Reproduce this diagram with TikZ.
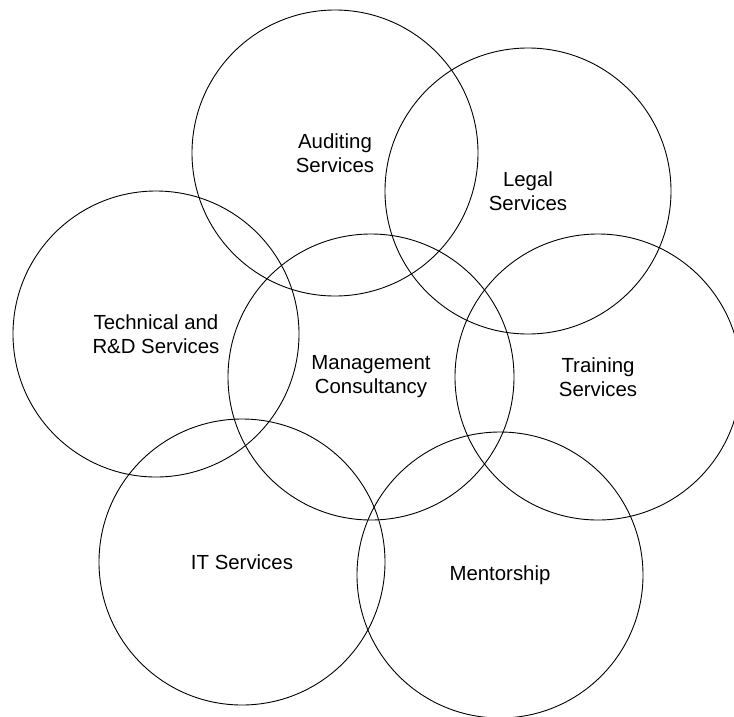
\documentclass[tikz,border=0pt]{standalone}
\usepackage{fontspec}
\setmainfont{Liberation Sans}

\begin{document}
\begin{tikzpicture}[
    x=1pt, y=-1pt, % pixel-like units, y going down
    service/.style={
        circle,
        draw,
        minimum size=286pt,
        inner sep=0pt,
        align=center,
        line width=0.9pt,
        font=\fontsize{20.4}{24}\selectfont
    }
]
    % --- Frame ---
    \clip (0,0) rectangle (734,716);

    % --- Nodes ---

    % Top Row
    \node [service] (audit) at (335,153) {Auditing\\Services};
    \node [service] (legal) at (528,191) {Legal\\Services};

    % Middle Row
    \node [service] (tech) at (156,334) {Technical and\\R\&D Services};
    \node [service] (mgmt) at (371,377) {Management\\Consultancy};
    \node [service] (train) at (598,377) {Training\\Services};

    % Bottom Row
    \node [service] (itserv) at (242,562) {IT Services};
    \node [service] (mentor) at (500,575) {Mentorship};

\end{tikzpicture}
\end{document}
